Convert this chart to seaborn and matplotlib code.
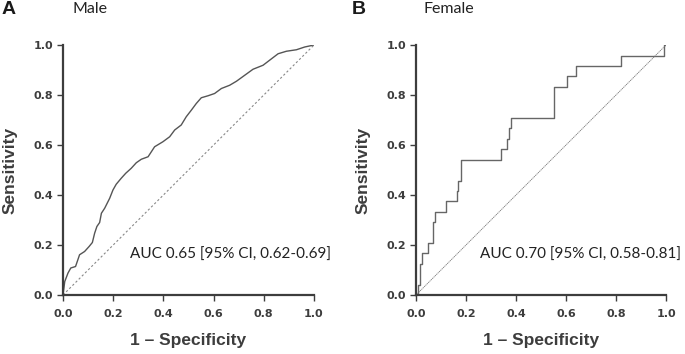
import numpy as np
import pandas as pd
import matplotlib
matplotlib.use('Agg')
import matplotlib.pyplot as plt
import seaborn as sns

# male ROC curve (1 - specificity, sensitivity)
male_fpr = [0.0, 0.007, 0.02, 0.031, 0.05, 0.066, 0.086, 0.104, 0.117, 0.126,
            0.135, 0.146, 0.153, 0.166, 0.186, 0.199, 0.212, 0.232, 0.25, 0.272,
            0.292, 0.312, 0.339, 0.365, 0.398, 0.425, 0.445, 0.471, 0.491, 0.511,
            0.531, 0.551, 0.578, 0.604, 0.631, 0.664, 0.691, 0.724, 0.757, 0.797,
            0.823, 0.857, 0.89, 0.93, 0.963, 1.0]
male_tpr = [0.0, 0.054, 0.088, 0.108, 0.114, 0.161, 0.174, 0.194, 0.21, 0.247,
            0.274, 0.29, 0.327, 0.347, 0.387, 0.42, 0.443, 0.467, 0.487, 0.507,
            0.529, 0.543, 0.553, 0.593, 0.613, 0.633, 0.66, 0.68, 0.713, 0.739,
            0.766, 0.789, 0.797, 0.806, 0.826, 0.839, 0.855, 0.879, 0.903, 0.919,
            0.939, 0.965, 0.975, 0.981, 0.992, 1.0]

# female ROC curve (step points)
female_fpr = [0.0, 0.008, 0.016, 0.023, 0.049, 0.069, 0.076, 0.119, 0.163, 0.169,
              0.18, 0.338, 0.362, 0.372, 0.381, 0.55, 0.553, 0.603, 0.638, 0.818,
              0.993, 1.0]
female_tpr = [0.0, 0.042, 0.125, 0.167, 0.208, 0.292, 0.333, 0.375, 0.417, 0.458,
              0.542, 0.583, 0.625, 0.667, 0.708, 0.75, 0.833, 0.875, 0.917, 0.958,
              1.0, 1.0]

ticks = [0.0, 0.2, 0.4, 0.6, 0.8, 1.0]
panels = ['A', 'B']
titles = ['Male', 'Female']
auc_labels = ['AUC 0.65 [95% CI, 0.62-0.69]', 'AUC 0.70 [95% CI, 0.58-0.81]']
auc_x = [0.267, 0.256]

sns.set_style('ticks')
plt.rcParams['font.family'] = ['Liberation Sans', 'DejaVu Sans']

dark = '#3d3d3d'
fig = plt.figure(figsize=(6.85, 3.54), dpi=100)
ax1 = fig.add_axes([63 / 685, 59 / 354, 251 / 685, 250 / 354])
ax2 = fig.add_axes([416 / 685, 59 / 354, 250 / 685, 250 / 354])

male = pd.DataFrame({'fpr': male_fpr, 'tpr': male_tpr})
female = pd.DataFrame({'fpr': female_fpr, 'tpr': female_tpr})

sns.lineplot(data=male, x='fpr', y='tpr', estimator=None, sort=False,
             color='#555555', linewidth=1.0, ax=ax1)
sns.lineplot(data=female, x='fpr', y='tpr', estimator=None, sort=False,
             drawstyle='steps-post', color='#666666', linewidth=1.0, ax=ax2)

ax1.plot([0, 1], [0, 1], color='#888888', linewidth=0.8, linestyle=(0, (2, 2)))
ax2.plot([0, 1], [0, 1], color='#777777', linewidth=0.6, linestyle=(0, (1.5, 0.8)))

for ax, title, auc, ax_x in zip([ax1, ax2], titles, auc_labels, auc_x):
    ax.set_xlim(0, 1)
    ax.set_ylim(0, 1)
    ax.set_xticks(ticks)
    ax.set_yticks(ticks)
    ax.set_xticklabels([f'{t:.1f}' for t in ticks])
    ax.set_yticklabels([f'{t:.1f}' for t in ticks])
    for lab in ax.get_xticklabels() + ax.get_yticklabels():
        lab.set_fontweight('bold')
        lab.set_fontsize(8)
        lab.set_family('DejaVu Sans')
        lab.set_color(dark)
    ax.tick_params(axis='x', direction='out', length=4.3, width=1.0, color=dark, pad=6)
    ax.tick_params(axis='y', direction='out', length=4.3, width=1.0, color=dark, pad=3)
    for side in ['top', 'right']:
        ax.spines[side].set_visible(False)
    for side in ['left', 'bottom']:
        ax.spines[side].set_linewidth(1.6)
        ax.spines[side].set_color(dark)
    ax.set_xlabel('1 \u2013 Specificity', fontsize=12.5, fontweight='bold',
                  color=dark, labelpad=10)
    ax.set_ylabel('Sensitivity', fontsize=12.5, fontweight='bold',
                  color=dark, labelpad=11)
    ax.text(ax_x, 0.16, auc, fontsize=11, family='Lato', color='#222222',
            va='center', ha='left', transform=ax.transAxes)

fig.text(2 / 685, 1 - 9 / 354, 'A', fontsize=14, fontweight='bold', color='#1a1a1a',
         va='center', ha='left')
fig.text(72 / 685, 1 - 9 / 354, 'Male', fontsize=11.5, family='Lato', color='#222222',
         va='center', ha='left')
fig.text(352 / 685, 1 - 9 / 354, 'B', fontsize=14, fontweight='bold', color='#1a1a1a',
         va='center', ha='left')
fig.text(423 / 685, 1 - 9 / 354, 'Female', fontsize=11.5, family='Lato', color='#222222',
         va='center', ha='left')

fig.savefig('out.png', dpi=100)
